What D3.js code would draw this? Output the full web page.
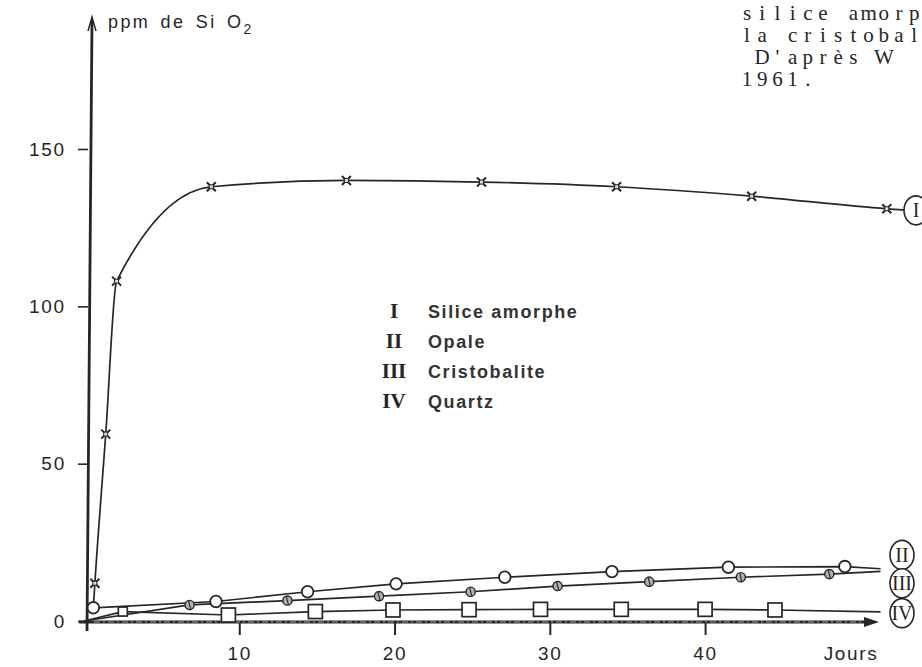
<!DOCTYPE html>
<html>
<head>
<meta charset="utf-8">
<script src="https://cdn.jsdelivr.net/npm/d3@7"></script>
<style>
  body { margin: 0; background: #fff; }
  svg { display: block; }
</style>
</head>
<body>
<svg id="chart" width="922" height="667"></svg>
<script>
// values (days, ppm SiO2)
const numerals = ["I", "II", "III", "IV"];
const seriesNames = ["Silice amorphe", "Opale", "Cristobalite", "Quartz"];

const amorpheDays = [0.7, 1.4, 2.1, 8.2, 16.9, 25.6, 34.3, 43.0, 51.7];
const amorphePpm = [12, 59.4, 108, 138, 140, 139.5, 138, 135, 131];
const amorpheEnds = [[0.6, 4.2], [53.2, 130.5]];

const opaleDays = [0.6, 8.5, 14.4, 20.1, 27.1, 34.0, 41.5, 49.0];
const opalePpm = [4.2, 6.2, 9.3, 11.8, 13.9, 15.7, 17.1, 17.3];
const opaleEnds = [null, [51.3, 16.6]];

const cristoDays = [6.8, 13.1, 19.0, 24.9, 30.5, 36.4, 42.3, 48.0];
const cristoPpm = [5.1, 6.5, 7.9, 9.3, 11.1, 12.5, 13.9, 14.9];
const cristoEnds = [[0, 0], [51.3, 15.8]];

const quartzDays = [2.5, 9.3, 14.9, 19.9, 24.8, 29.4, 34.6, 40.0, 44.5];
const quartzPpm = [3.0, 1.9, 3.0, 3.5, 3.6, 3.7, 3.7, 3.7, 3.5];
const quartzEnds = [[0, 0], [51.3, 2.9]];

const yTicks = [0, 50, 100, 150];
const xTicks = [10, 20, 30, 40];

const noteLines = ["silice amorp", "la cristobal", " D'après W", "1961."];

const svg = d3.select("#chart");
const ink = "#262626";
const sans = "Liberation Sans, Arial, sans-serif";

const x = d3.scaleLinear().domain([0, 51.2]).range([84, 879]);
const y = d3.scaleLinear().domain([0, 150]).range([621, 149]);

// note text in the top right corner, typewriter: one fixed cell per character
svg.append("g")
    .selectAll("text")
    .data(noteLines)
    .join("text")
    .attr("y", (d, i) => 20 + i * 22)
    .attr("font-family", "Liberation Serif, serif")
    .attr("font-size", 21)
    .attr("text-anchor", "middle")
    .attr("fill", ink)
    .selectAll("tspan")
    .data(d => [...d].map((c, i) => ({ c, i })).filter(o => o.c !== " "))
    .join("tspan")
    .attr("x", o => 747 + o.i * 15.2)
    .text(o => o.c);

// y axis
const yAxis = d3.axisLeft(y).tickValues(yTicks).tickSize(10).tickPadding(12);
svg.append("g")
    .attr("transform", `translate(${x(0) + 4},0)`)
    .call(yAxis)
    .call(g => g.select(".domain").remove())
    .call(g => g.selectAll("line").attr("stroke", ink).attr("stroke-width", 1.6))
    .call(g => g.selectAll("text")
        .attr("font-family", sans)
        .attr("font-size", 19)
        .attr("letter-spacing", 1.8)
        .attr("fill", ink));

// x axis
const xAxis = d3.axisBottom(x).tickValues(xTicks).tickSize(13).tickPadding(12);
svg.append("g")
    .attr("transform", `translate(0,${y(0) + 1})`)
    .call(xAxis)
    .call(g => g.select(".domain").remove())
    .call(g => g.selectAll("line").attr("stroke", ink).attr("stroke-width", 2))
    .call(g => g.selectAll("text")
        .attr("font-family", sans)
        .attr("font-size", 19)
        .attr("letter-spacing", 1.8)
        .attr("fill", ink));

// axis lines with arrows
const x0 = x(0) + 3;
svg.append("line")
    .attr("x1", x0).attr("y1", y(0) + 10)
    .attr("x2", x0 + 5).attr("y2", 20)
    .attr("stroke", ink).attr("stroke-width", 2.8);
svg.append("path")
    .attr("d", `M${x0 + 1},31 L${x0 + 5},17 L${x0 + 9},31`)
    .attr("fill", "none").attr("stroke", ink).attr("stroke-width", 1.5);

svg.append("line")
    .attr("x1", x(0) - 5).attr("y1", y(0) + 1)
    .attr("x2", x(51.2) - 6).attr("y2", y(0) + 1)
    .attr("stroke", ink).attr("stroke-width", 3.2);
svg.append("line")
    .attr("x1", x(0) + 10).attr("y1", y(0) + 1)
    .attr("x2", x(51.2) - 10).attr("y2", y(0) + 1)
    .attr("stroke", "#9a9a9a").attr("stroke-width", 1)
    .attr("stroke-dasharray", "6 3 2 3");
svg.append("path")
    .attr("d", `M${x(51.2) - 15},${y(0) - 4} L${x(51.2)},${y(0) + 1} L${x(51.2) - 15},${y(0) + 6} Z`)
    .attr("fill", ink);

// axis titles
const yt = svg.append("text")
    .attr("x", 108).attr("y", 28)
    .attr("font-family", sans)
    .attr("font-size", 18)
    .attr("letter-spacing", 2.4)
    .attr("word-spacing", 3)
    .attr("fill", ink);
yt.append("tspan").text("ppm de Si O");
yt.append("tspan").attr("dy", 6).attr("font-size", 14).text("2");

svg.append("text")
    .attr("x", 851).attr("y", 660)
    .attr("text-anchor", "middle")
    .attr("font-family", sans)
    .attr("font-size", 19)
    .attr("letter-spacing", 1.6)
    .attr("fill", ink)
    .text("Jours");

// curves
const toPts = (days, ppm, ends) => {
    const pts = days.map((d, i) => [d, ppm[i]]);
    if (ends[0]) pts.unshift(ends[0]);
    if (ends[1]) pts.push(ends[1]);
    return pts;
};

const smooth = d3.line().x(d => x(d[0])).y(d => y(d[1])).curve(d3.curveMonotoneX);
const straight = d3.line().x(d => x(d[0])).y(d => y(d[1]));

const curves = svg.append("g")
    .attr("fill", "none")
    .attr("stroke", ink)
    .attr("stroke-width", 1.7);

curves.append("path").attr("d", smooth(toPts(amorpheDays, amorphePpm, amorpheEnds)));
curves.append("path").attr("d", straight(toPts(opaleDays, opalePpm, opaleEnds)));
curves.append("path").attr("d", straight(toPts(cristoDays, cristoPpm, cristoEnds)));
curves.append("path").attr("d", straight(toPts(quartzDays, quartzPpm, quartzEnds)));

// markers
const mk = svg.append("g").attr("stroke", ink);

// I : crossed marks
mk.append("g")
    .selectAll("g")
    .data(amorpheDays.map((d, i) => [d, amorphePpm[i]]))
    .join("g")
    .attr("transform", d => `translate(${x(d[0])},${y(d[1])})`)
    .call(g => g.append("path")
        .attr("d", "M-4.5,-4.5L4.5,4.5M-4.5,4.5L4.5,-4.5")
        .attr("stroke-width", 2))
    .call(g => g.append("rect")
        .attr("x", -2).attr("y", -2).attr("width", 4).attr("height", 4)
        .attr("fill", "#ddd").attr("stroke-width", 1));

// II : open circles
mk.append("g")
    .selectAll("circle")
    .data(opaleDays.map((d, i) => [d, opalePpm[i]]))
    .join("circle")
    .attr("cx", d => x(d[0]))
    .attr("cy", d => y(d[1]))
    .attr("r", 5.8)
    .attr("fill", "#fff")
    .attr("stroke-width", 1.8);

// III : small hatched circles
mk.append("g")
    .selectAll("g")
    .data(cristoDays.map((d, i) => [d, cristoPpm[i]]))
    .join("g")
    .attr("transform", d => `translate(${x(d[0])},${y(d[1])})`)
    .call(g => g.append("circle")
        .attr("r", 4.6)
        .attr("fill", "#b0b0b0")
        .attr("stroke-width", 1.4))
    .call(g => g.append("path")
        .attr("d", "M-1,-4L1,4")
        .attr("stroke-width", 1.1));

// IV : open squares
mk.append("g")
    .selectAll("rect")
    .data(quartzDays.map((d, i) => [d, quartzPpm[i]]))
    .join("rect")
    .attr("x", d => x(d[0]) - (d[0] < 5 ? 4.5 : 7))
    .attr("y", d => y(d[1]) - (d[0] < 5 ? 4.5 : 7))
    .attr("width", d => d[0] < 5 ? 9 : 14)
    .attr("height", d => d[0] < 5 ? 9 : 14)
    .attr("fill", "#fff")
    .attr("stroke-width", 1.7);

// circled numerals at the end of each curve
const endLabels = [
    [numerals[0], amorpheEnds[1][1]],
    [numerals[1], 21],
    [numerals[2], 12],
    [numerals[3], 2.5]
];
const lab = svg.append("g")
    .selectAll("g")
    .data(endLabels)
    .join("g")
    .attr("transform", d => `translate(${d[0] === "I" ? 916 : 902},${y(d[1])})`);
lab.append("ellipse")
    .attr("rx", 12).attr("ry", 14.5)
    .attr("fill", "#fff").attr("stroke", ink).attr("stroke-width", 1.6);
lab.append("text")
    .attr("text-anchor", "middle")
    .attr("dy", 7)
    .attr("font-family", "Liberation Serif, serif")
    .attr("font-size", 20)
    .attr("fill", ink)
    .text(d => d[0]);

// legend
const leg = svg.append("g")
    .selectAll("g")
    .data(seriesNames)
    .join("g")
    .attr("transform", (d, i) => `translate(0,${318 + i * 30})`);
leg.append("text")
    .attr("x", 394)
    .attr("text-anchor", "middle")
    .attr("font-family", "Liberation Serif, serif")
    .attr("font-weight", "bold")
    .attr("font-size", 21)
    .attr("fill", ink)
    .text((d, i) => numerals[i]);
leg.append("text")
    .attr("x", 428)
    .attr("font-family", sans)
    .attr("font-weight", "bold")
    .attr("font-size", 18)
    .attr("letter-spacing", 1.6)
    .attr("fill", "#333")
    .text(d => d);
</script>
</body>
</html>
